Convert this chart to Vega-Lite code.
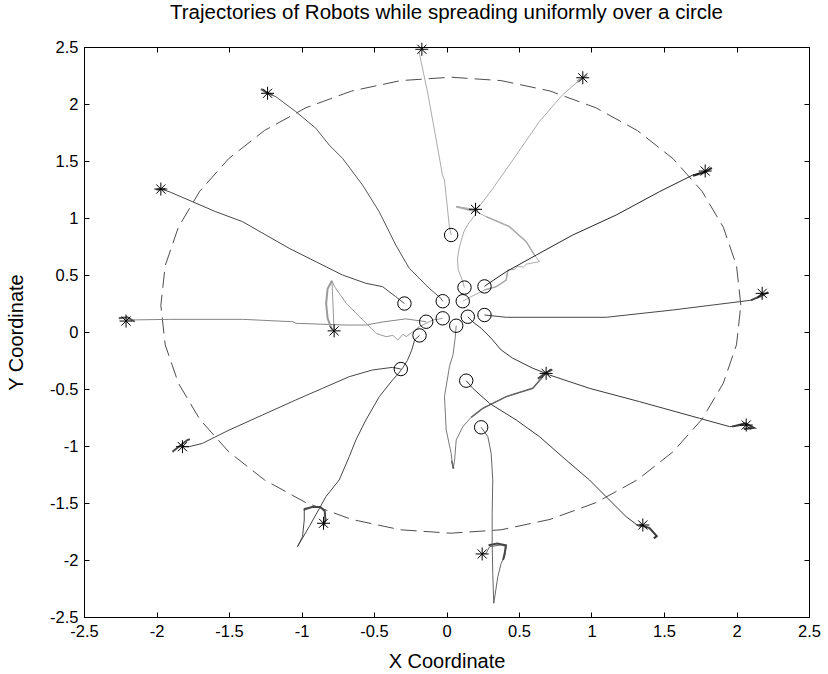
{
"$schema": "https://vega.github.io/schema/vega-lite/v6.json",
"width": 725, "height": 570,
"autosize": {"type": "none"},
"padding": {"left": 84, "top": 47, "right": 19, "bottom": 57},
"background": "white",
"title": {"text": "Trajectories of Robots while spreading uniformly over a circle", "font": "Liberation Sans", "fontSize": 20.5, "fontWeight": "normal", "color": "black", "offset": 16, "anchor": "middle"},
"config": {
  "view": {"stroke": "black", "strokeWidth": 1},
  "axis": {"grid": false, "domainColor": "black", "tickColor": "black", "labelColor": "black", "titleColor": "black", "labelFont": "Liberation Sans", "titleFont": "Liberation Sans", "labelFontSize": 16.5, "titleFontSize": 20, "titleFontWeight": "normal", "tickSize": -5, "labelPadding": 11, "labelFlush": false, "labelOverlap": false}
},
"datasets": {
"circ": [
{"a":0,"x":2.03,"y":0.235},{"a":1,"x":2.0,"y":0.582},{"a":2,"x":1.909,"y":0.919},{"a":3,"x":1.762,"y":1.235},{"a":4,"x":1.562,"y":1.521},{"a":5,"x":1.316,"y":1.767},{"a":6,"x":1.03,"y":1.967},{"a":7,"x":0.714,"y":2.114},{"a":8,"x":0.377,"y":2.205},{"a":9,"x":0.03,"y":2.235},{"a":10,"x":-0.317,"y":2.205},{"a":11,"x":-0.654,"y":2.114},{"a":12,"x":-0.97,"y":1.967},{"a":13,"x":-1.256,"y":1.767},{"a":14,"x":-1.502,"y":1.521},{"a":15,"x":-1.702,"y":1.235},{"a":16,"x":-1.849,"y":0.919},{"a":17,"x":-1.94,"y":0.582},{"a":18,"x":-1.97,"y":0.235},{"a":19,"x":-1.94,"y":-0.112},{"a":20,"x":-1.849,"y":-0.449},{"a":21,"x":-1.702,"y":-0.765},{"a":22,"x":-1.502,"y":-1.051},{"a":23,"x":-1.256,"y":-1.297},{"a":24,"x":-0.97,"y":-1.497},{"a":25,"x":-0.654,"y":-1.644},{"a":26,"x":-0.317,"y":-1.735},{"a":27,"x":0.03,"y":-1.765},{"a":28,"x":0.377,"y":-1.735},{"a":29,"x":0.714,"y":-1.644},{"a":30,"x":1.03,"y":-1.497},{"a":31,"x":1.316,"y":-1.297},{"a":32,"x":1.562,"y":-1.051},{"a":33,"x":1.762,"y":-0.765},{"a":34,"x":1.909,"y":-0.449},{"a":35,"x":2.0,"y":-0.112},{"a":36,"x":2.03,"y":0.235}
],
"traj": [
{"r":"1","i":1,"x":0.032,"y":0.851,"s":"ka","w":"thin"},{"r":"1","i":2,"x":0.021,"y":0.91,"s":"ka","w":"thin"},{"r":"1","i":3,"x":-0.014,"y":1.333,"s":"ka","w":"thin"},{"r":"1","i":4,"x":-0.028,"y":1.377,"s":"ka","w":"thin"},{"r":"1","i":5,"x":-0.08,"y":1.75,"s":"ka","w":"thin"},{"r":"1","i":6,"x":-0.13,"y":2.1,"s":"ka","w":"thin"},{"r":"1","i":7,"x":-0.19,"y":2.46,"s":"ka","w":"thin"},{"r":"1","i":8,"x":-0.17,"y":2.48,"s":"ka","w":"thin"},

{"r":"2","i":1,"x":0.124,"y":0.39,"s":"ka","w":"thin"},{"r":"2","i":2,"x":0.11,"y":0.45,"s":"ka","w":"thin"},{"r":"2","i":3,"x":0.08,"y":0.55,"s":"ka","w":"thin"},{"r":"2","i":4,"x":0.076,"y":0.65,"s":"ka","w":"thin"},{"r":"2","i":5,"x":0.09,"y":0.75,"s":"ka","w":"thin"},{"r":"2","i":6,"x":0.12,"y":0.88,"s":"ka","w":"thin"},{"r":"2","i":7,"x":0.145,"y":0.94,"s":"ka","w":"thin"},{"r":"2","i":8,"x":0.205,"y":1.04,"s":"ka","w":"thin"},{"r":"2","i":9,"x":0.22,"y":1.09,"s":"ka","w":"thin"},{"r":"2","i":10,"x":0.32,"y":1.26,"s":"ka","w":"thin"},{"r":"2","i":11,"x":0.48,"y":1.55,"s":"ka","w":"thin"},{"r":"2","i":12,"x":0.64,"y":1.845,"s":"ka","w":"thin"},{"r":"2","i":13,"x":0.8,"y":2.08,"s":"ka","w":"thin"},{"r":"2","i":14,"x":0.917,"y":2.21,"s":"ka","w":"thin"},{"r":"2","i":15,"x":0.94,"y":2.23,"s":"ka","w":"thin"},
{"r":"2b","i":1,"x":0.9,"y":2.2,"s":"ka","w":"thick"},{"r":"2b","i":2,"x":0.97,"y":2.25,"s":"ka","w":"thick"},

{"r":"3","i":1,"x":0.112,"y":0.27,"s":"ka","w":"thin"},{"r":"3","i":2,"x":0.17,"y":0.31,"s":"ka","w":"thin"},{"r":"3","i":3,"x":0.262,"y":0.368,"s":"ka","w":"thin"},{"r":"3","i":4,"x":0.343,"y":0.398,"s":"ka","w":"thin"},{"r":"3","i":5,"x":0.412,"y":0.456,"s":"ka","w":"thin"},{"r":"3","i":6,"x":0.423,"y":0.544,"s":"ka","w":"thin"},{"r":"3","i":7,"x":0.47,"y":0.55,"s":"ka","w":"thin"},{"r":"3","i":8,"x":0.49,"y":0.575,"s":"ka","w":"thin"},{"r":"3","i":9,"x":0.53,"y":0.57,"s":"ka","w":"thin"},{"r":"3","i":10,"x":0.55,"y":0.595,"s":"ka","w":"thin"},{"r":"3","i":11,"x":0.641,"y":0.617,"s":"ka","w":"thin"},{"r":"3","i":12,"x":0.607,"y":0.675,"s":"ka","w":"thin"},{"r":"3","i":13,"x":0.55,"y":0.792,"s":"ka","w":"thin"},{"r":"3","i":14,"x":0.434,"y":0.924,"s":"ka","w":"thin"},{"r":"3","i":15,"x":0.274,"y":1.012,"s":"ka","w":"thin"},{"r":"3","i":16,"x":0.205,"y":1.056,"s":"ka","w":"thin"},{"r":"3","i":17,"x":0.067,"y":1.1,"s":"ka","w":"thin"},{"r":"3","i":18,"x":0.2,"y":1.076,"s":"ka","w":"thin"},
{"r":"3b","i":1,"x":0.262,"y":0.368,"s":"ka","w":"mid"},{"r":"3b","i":2,"x":0.343,"y":0.398,"s":"ka","w":"mid"},{"r":"3b","i":3,"x":0.412,"y":0.456,"s":"ka","w":"mid"},{"r":"3b","i":4,"x":0.423,"y":0.544,"s":"ka","w":"mid"},
{"r":"3c","i":1,"x":0.607,"y":0.675,"s":"ka","w":"mid"},{"r":"3c","i":2,"x":0.55,"y":0.792,"s":"ka","w":"mid"},{"r":"3c","i":3,"x":0.434,"y":0.924,"s":"ka","w":"mid"},{"r":"3c","i":4,"x":0.274,"y":1.012,"s":"ka","w":"mid"},{"r":"3c","i":5,"x":0.205,"y":1.056,"s":"ka","w":"thick"},{"r":"3c","i":6,"x":0.067,"y":1.1,"s":"ka","w":"thick"},

{"r":"4","i":1,"x":0.262,"y":0.4,"s":"k2","w":"thin"},{"r":"4","i":2,"x":0.274,"y":0.412,"s":"k2","w":"thin"},{"r":"4","i":3,"x":0.412,"y":0.529,"s":"k2","w":"thin"},{"r":"4","i":4,"x":0.619,"y":0.675,"s":"k2","w":"thin"},{"r":"4","i":5,"x":0.871,"y":0.851,"s":"k2","w":"thin"},{"r":"4","i":6,"x":1.17,"y":1.026,"s":"k2","w":"thin"},{"r":"4","i":7,"x":1.469,"y":1.231,"s":"k2","w":"thin"},{"r":"4","i":8,"x":1.699,"y":1.377,"s":"k2","w":"thin"},{"r":"4","i":9,"x":1.784,"y":1.412,"s":"k2","w":"thin"},
{"r":"4b","i":1,"x":1.7,"y":1.37,"s":"k2","w":"thick"},{"r":"4b","i":2,"x":1.78,"y":1.4,"s":"k2","w":"thick"},{"r":"4b","i":3,"x":1.83,"y":1.44,"s":"k2","w":"thick"},

{"r":"5","i":1,"x":0.262,"y":0.149,"s":"k4","w":"thin"},{"r":"5","i":2,"x":0.308,"y":0.143,"s":"k4","w":"thin"},{"r":"5","i":3,"x":0.412,"y":0.129,"s":"k4","w":"thin"},{"r":"5","i":4,"x":0.7,"y":0.129,"s":"k4","w":"thin"},{"r":"5","i":5,"x":1.101,"y":0.129,"s":"k4","w":"thin"},{"r":"5","i":6,"x":1.561,"y":0.193,"s":"k4","w":"thin"},{"r":"5","i":7,"x":2.021,"y":0.266,"s":"k4","w":"thin"},{"r":"5","i":8,"x":2.113,"y":0.281,"s":"k4","w":"thin"},{"r":"5","i":9,"x":2.177,"y":0.339,"s":"k4","w":"thin"},
{"r":"5b","i":1,"x":2.1,"y":0.28,"s":"k4","w":"thick"},{"r":"5b","i":2,"x":2.16,"y":0.31,"s":"k4","w":"thick"},{"r":"5b","i":3,"x":2.22,"y":0.35,"s":"k4","w":"thick"},

{"r":"6","i":1,"x":0.147,"y":0.134,"s":"k3","w":"thin"},{"r":"6","i":2,"x":0.18,"y":0.09,"s":"k3","w":"thin"},{"r":"6","i":3,"x":0.24,"y":0.032,"s":"k3","w":"thin"},{"r":"6","i":4,"x":0.308,"y":-0.055,"s":"k3","w":"thin"},{"r":"6","i":5,"x":0.377,"y":-0.158,"s":"k3","w":"thin"},{"r":"6","i":6,"x":0.457,"y":-0.23,"s":"k3","w":"thin"},{"r":"6","i":7,"x":0.595,"y":-0.318,"s":"k3","w":"thin"},{"r":"6","i":8,"x":0.687,"y":-0.363,"s":"k3","w":"thin"},{"r":"6","i":9,"x":0.71,"y":-0.377,"s":"k3","w":"thin"},{"r":"6","i":10,"x":0.986,"y":-0.494,"s":"k3","w":"thin"},{"r":"6","i":11,"x":1.331,"y":-0.611,"s":"k3","w":"thin"},{"r":"6","i":12,"x":1.745,"y":-0.757,"s":"k3","w":"thin"},{"r":"6","i":13,"x":1.952,"y":-0.83,"s":"k3","w":"thin"},{"r":"6","i":14,"x":2.067,"y":-0.816,"s":"k3","w":"thin"},
{"r":"6b","i":1,"x":1.97,"y":-0.83,"s":"k3","w":"thick"},{"r":"6b","i":2,"x":2.06,"y":-0.8,"s":"k3","w":"thick"},{"r":"6b","i":3,"x":2.12,"y":-0.84,"s":"k3","w":"thick"},{"r":"6b","i":4,"x":2.05,"y":-0.85,"s":"k3","w":"thick"},

{"r":"7","i":1,"x":0.067,"y":0.055,"s":"k7","w":"thin"},{"r":"7","i":2,"x":0.06,"y":-0.05,"s":"k7","w":"thin"},{"r":"7","i":3,"x":0.045,"y":-0.2,"s":"k7","w":"thin"},{"r":"7","i":4,"x":0.021,"y":-0.3,"s":"k7","w":"thin"},{"r":"7","i":5,"x":-0.014,"y":-0.567,"s":"k7","w":"thin"},{"r":"7","i":6,"x":-0.002,"y":-0.86,"s":"k7","w":"thin"},{"r":"7","i":7,"x":0.032,"y":-1.064,"s":"k7","w":"thin"},{"r":"7","i":8,"x":0.044,"y":-1.196,"s":"k7","w":"thin"},{"r":"7","i":9,"x":0.055,"y":-1.138,"s":"k7","w":"thin"},{"r":"7","i":10,"x":0.067,"y":-0.947,"s":"k7","w":"thin"},{"r":"7","i":11,"x":0.113,"y":-0.83,"s":"k7","w":"thin"},{"r":"7","i":12,"x":0.17,"y":-0.749,"s":"k7","w":"thin"},{"r":"7","i":13,"x":0.25,"y":-0.67,"s":"k7","w":"thin"},{"r":"7","i":14,"x":0.412,"y":-0.567,"s":"k7","w":"thin"},{"r":"7","i":15,"x":0.595,"y":-0.494,"s":"k7","w":"thin"},{"r":"7","i":16,"x":0.664,"y":-0.392,"s":"k7","w":"thin"},{"r":"7","i":17,"x":0.687,"y":-0.363,"s":"k7","w":"thin"},
{"r":"7b","i":1,"x":0.17,"y":-0.749,"s":"k6","w":"mid"},{"r":"7b","i":2,"x":0.25,"y":-0.67,"s":"k6","w":"mid"},{"r":"7b","i":3,"x":0.412,"y":-0.567,"s":"k6","w":"mid"},{"r":"7b","i":4,"x":0.595,"y":-0.494,"s":"k6","w":"mid"},{"r":"7b","i":5,"x":0.664,"y":-0.392,"s":"k6","w":"mid"},
{"r":"7c","i":1,"x":0.63,"y":-0.41,"s":"k4","w":"thick"},{"r":"7c","i":2,"x":0.68,"y":-0.36,"s":"k4","w":"thick"},{"r":"7c","i":3,"x":0.73,"y":-0.33,"s":"k4","w":"thick"},
{"r":"7d","i":1,"x":0.035,"y":-1.13,"s":"k6","w":"mid"},{"r":"7d","i":2,"x":0.05,"y":-1.2,"s":"k6","w":"mid"},

{"r":"8","i":1,"x":0.136,"y":-0.427,"s":"k3","w":"thin"},{"r":"8","i":2,"x":0.181,"y":-0.494,"s":"k3","w":"thin"},{"r":"8","i":3,"x":0.297,"y":-0.626,"s":"k3","w":"thin"},{"r":"8","i":4,"x":0.481,"y":-0.772,"s":"k3","w":"thin"},{"r":"8","i":5,"x":0.641,"y":-0.918,"s":"k3","w":"thin"},{"r":"8","i":6,"x":0.825,"y":-1.123,"s":"k3","w":"thin"},{"r":"8","i":7,"x":0.986,"y":-1.298,"s":"k3","w":"thin"},{"r":"8","i":8,"x":1.101,"y":-1.445,"s":"k3","w":"thin"},{"r":"8","i":9,"x":1.239,"y":-1.62,"s":"k3","w":"thin"},{"r":"8","i":10,"x":1.331,"y":-1.708,"s":"k3","w":"thin"},{"r":"8","i":11,"x":1.354,"y":-1.693,"s":"k3","w":"thin"},
{"r":"8b","i":1,"x":1.33,"y":-1.69,"s":"k3","w":"thick"},{"r":"8b","i":2,"x":1.4,"y":-1.72,"s":"k3","w":"thick"},{"r":"8b","i":3,"x":1.45,"y":-1.79,"s":"k3","w":"thick"},{"r":"8b","i":4,"x":1.43,"y":-1.81,"s":"k3","w":"thick"},

{"r":"9","i":1,"x":0.239,"y":-0.836,"s":"k6","w":"thin"},{"r":"9","i":2,"x":0.285,"y":-0.918,"s":"k6","w":"thin"},{"r":"9","i":3,"x":0.308,"y":-1.064,"s":"k6","w":"thin"},{"r":"9","i":4,"x":0.319,"y":-1.298,"s":"k6","w":"thin"},{"r":"9","i":5,"x":0.315,"y":-1.591,"s":"k6","w":"thin"},{"r":"9","i":6,"x":0.315,"y":-1.854,"s":"k6","w":"thin"},{"r":"9","i":7,"x":0.319,"y":-2.117,"s":"k6","w":"thin"},{"r":"9","i":8,"x":0.326,"y":-2.38,"s":"k6","w":"thin"},{"r":"9","i":9,"x":0.354,"y":-2.146,"s":"k6","w":"thin"},{"r":"9","i":10,"x":0.377,"y":-2.029,"s":"k6","w":"thin"},{"r":"9","i":11,"x":0.4,"y":-1.971,"s":"k6","w":"thin"},{"r":"9","i":12,"x":0.412,"y":-1.883,"s":"k6","w":"thin"},{"r":"9","i":13,"x":0.377,"y":-1.868,"s":"k6","w":"thin"},{"r":"9","i":14,"x":0.297,"y":-1.883,"s":"k6","w":"thin"},{"r":"9","i":15,"x":0.274,"y":-1.941,"s":"k6","w":"thin"},{"r":"9","i":16,"x":0.246,"y":-1.947,"s":"k6","w":"thin"},
{"r":"9b","i":1,"x":0.29,"y":-1.87,"s":"k4","w":"thick"},{"r":"9b","i":2,"x":0.35,"y":-1.855,"s":"k4","w":"thick"},{"r":"9b","i":3,"x":0.41,"y":-1.87,"s":"k4","w":"thick"},{"r":"9b","i":4,"x":0.4,"y":-1.95,"s":"k4","w":"thick"},{"r":"9b","i":5,"x":0.39,"y":-2.0,"s":"k4","w":"thick"},

{"r":"10","i":1,"x":-0.186,"y":-0.03,"s":"k4","w":"thin"},{"r":"10","i":2,"x":-0.22,"y":-0.07,"s":"k4","w":"thin"},{"r":"10","i":3,"x":-0.24,"y":-0.16,"s":"k4","w":"thin"},{"r":"10","i":4,"x":-0.27,"y":-0.25,"s":"k4","w":"thin"},{"r":"10","i":5,"x":-0.3,"y":-0.31,"s":"k4","w":"thin"},{"r":"10","i":6,"x":-0.335,"y":-0.37,"s":"k4","w":"thin"},{"r":"10","i":7,"x":-0.372,"y":-0.421,"s":"k4","w":"thin"},{"r":"10","i":8,"x":-0.464,"y":-0.568,"s":"k4","w":"thin"},{"r":"10","i":9,"x":-0.556,"y":-0.772,"s":"k4","w":"thin"},{"r":"10","i":10,"x":-0.625,"y":-0.947,"s":"k4","w":"thin"},{"r":"10","i":11,"x":-0.671,"y":-1.094,"s":"k4","w":"thin"},{"r":"10","i":12,"x":-0.74,"y":-1.298,"s":"k4","w":"thin"},{"r":"10","i":13,"x":-0.832,"y":-1.445,"s":"k4","w":"thin"},{"r":"10","i":14,"x":-0.947,"y":-1.708,"s":"k4","w":"thin"},{"r":"10","i":15,"x":-1.028,"y":-1.883,"s":"k4","w":"thin"},{"r":"10","i":16,"x":-0.993,"y":-1.796,"s":"k4","w":"thin"},{"r":"10","i":17,"x":-0.981,"y":-1.649,"s":"k4","w":"thin"},{"r":"10","i":18,"x":-0.981,"y":-1.547,"s":"k4","w":"thin"},{"r":"10","i":19,"x":-0.878,"y":-1.532,"s":"k4","w":"thin"},{"r":"10","i":20,"x":-0.843,"y":-1.561,"s":"k4","w":"thin"},{"r":"10","i":21,"x":-0.832,"y":-1.649,"s":"k4","w":"thin"},{"r":"10","i":22,"x":-0.848,"y":-1.678,"s":"k4","w":"thin"},
{"r":"10b","i":1,"x":-0.985,"y":-1.56,"s":"k4","w":"thick"},{"r":"10b","i":2,"x":-0.93,"y":-1.535,"s":"k4","w":"thick"},{"r":"10b","i":3,"x":-0.87,"y":-1.535,"s":"k4","w":"thick"},{"r":"10b","i":4,"x":-0.84,"y":-1.57,"s":"k4","w":"thick"},{"r":"10b","i":5,"x":-0.835,"y":-1.65,"s":"k4","w":"thick"},{"r":"10b","i":6,"x":-0.85,"y":-1.7,"s":"k4","w":"thick"},

{"r":"11","i":1,"x":-0.315,"y":-0.325,"s":"k4","w":"thin"},{"r":"11","i":2,"x":-0.372,"y":-0.31,"s":"k4","w":"thin"},{"r":"11","i":3,"x":-0.51,"y":-0.333,"s":"k4","w":"thin"},{"r":"11","i":4,"x":-0.671,"y":-0.392,"s":"k4","w":"thin"},{"r":"11","i":5,"x":-0.855,"y":-0.494,"s":"k4","w":"thin"},{"r":"11","i":6,"x":-1.039,"y":-0.596,"s":"k4","w":"thin"},{"r":"11","i":7,"x":-1.269,"y":-0.728,"s":"k4","w":"thin"},{"r":"11","i":8,"x":-1.499,"y":-0.86,"s":"k4","w":"thin"},{"r":"11","i":9,"x":-1.591,"y":-0.918,"s":"k4","w":"thin"},{"r":"11","i":10,"x":-1.683,"y":-0.977,"s":"k4","w":"thin"},{"r":"11","i":11,"x":-1.775,"y":-1.006,"s":"k4","w":"thin"},{"r":"11","i":12,"x":-1.821,"y":-1.006,"s":"k4","w":"thin"},
{"r":"11b","i":1,"x":-1.89,"y":-1.05,"s":"k4","w":"thick"},{"r":"11b","i":2,"x":-1.84,"y":-1.0,"s":"k4","w":"thick"},{"r":"11b","i":3,"x":-1.79,"y":-0.95,"s":"k4","w":"thick"},{"r":"11b","i":4,"x":-1.77,"y":-0.94,"s":"k4","w":"thick"},

{"r":"12","i":1,"x":-0.29,"y":0.25,"s":"k4","w":"thin"},{"r":"12","i":2,"x":-0.35,"y":0.31,"s":"k4","w":"thin"},{"r":"12","i":3,"x":-0.441,"y":0.398,"s":"k4","w":"thin"},{"r":"12","i":4,"x":-0.556,"y":0.427,"s":"k4","w":"thin"},{"r":"12","i":5,"x":-0.717,"y":0.5,"s":"k4","w":"thin"},{"r":"12","i":6,"x":-0.901,"y":0.617,"s":"k4","w":"thin"},{"r":"12","i":7,"x":-1.085,"y":0.734,"s":"k4","w":"thin"},{"r":"12","i":8,"x":-1.246,"y":0.851,"s":"k4","w":"thin"},{"r":"12","i":9,"x":-1.407,"y":0.968,"s":"k4","w":"thin"},{"r":"12","i":10,"x":-1.591,"y":1.055,"s":"k4","w":"thin"},{"r":"12","i":11,"x":-1.752,"y":1.143,"s":"k4","w":"thin"},{"r":"12","i":12,"x":-1.913,"y":1.231,"s":"k4","w":"thin"},{"r":"12","i":13,"x":-1.97,"y":1.254,"s":"k4","w":"thin"},
{"r":"12b","i":1,"x":-2.0,"y":1.25,"s":"k4","w":"thick"},{"r":"12b","i":2,"x":-1.94,"y":1.255,"s":"k4","w":"thick"},

{"r":"13","i":1,"x":-0.026,"y":0.27,"s":"k5","w":"thin"},{"r":"13","i":2,"x":-0.039,"y":0.296,"s":"k5","w":"thin"},{"r":"13","i":3,"x":-0.119,"y":0.383,"s":"k5","w":"thin"},{"r":"13","i":4,"x":-0.257,"y":0.559,"s":"k5","w":"thin"},{"r":"13","i":5,"x":-0.35,"y":0.763,"s":"k5","w":"thin"},{"r":"13","i":6,"x":-0.464,"y":1.055,"s":"k5","w":"thin"},{"r":"13","i":7,"x":-0.579,"y":1.289,"s":"k5","w":"thin"},{"r":"13","i":8,"x":-0.717,"y":1.523,"s":"k5","w":"thin"},{"r":"13","i":9,"x":-0.809,"y":1.64,"s":"k5","w":"thin"},{"r":"13","i":10,"x":-0.901,"y":1.787,"s":"k5","w":"thin"},{"r":"13","i":11,"x":-1.039,"y":1.933,"s":"k5","w":"thin"},{"r":"13","i":12,"x":-1.177,"y":2.064,"s":"k5","w":"thin"},{"r":"13","i":13,"x":-1.234,"y":2.094,"s":"k5","w":"thin"},
{"r":"13b","i":1,"x":-1.28,"y":2.13,"s":"k5","w":"thick"},{"r":"13b","i":2,"x":-1.24,"y":2.1,"s":"k5","w":"thick"},{"r":"13b","i":3,"x":-1.2,"y":2.08,"s":"k5","w":"thick"},

{"r":"14","i":1,"x":-0.14,"y":0.09,"s":"k8","w":"thin"},{"r":"14","i":2,"x":-0.28,"y":0.115,"s":"k8","w":"thin"},{"r":"14","i":3,"x":-0.44,"y":0.088,"s":"k8","w":"thin"},{"r":"14","i":4,"x":-0.556,"y":0.061,"s":"k8","w":"thin"},{"r":"14","i":5,"x":-0.69,"y":0.061,"s":"k8","w":"thin"},{"r":"14","i":6,"x":-1.037,"y":0.076,"s":"k8","w":"thin"},{"r":"14","i":7,"x":-1.06,"y":0.09,"s":"k8","w":"thin"},{"r":"14","i":8,"x":-1.405,"y":0.111,"s":"k8","w":"thin"},{"r":"14","i":9,"x":-1.91,"y":0.111,"s":"k8","w":"thin"},{"r":"14","i":10,"x":-2.209,"y":0.105,"s":"k8","w":"thin"},
{"r":"14b","i":1,"x":-2.26,"y":0.12,"s":"k5","w":"thick"},{"r":"14b","i":2,"x":-2.2,"y":0.13,"s":"k5","w":"thick"},{"r":"14b","i":3,"x":-2.15,"y":0.09,"s":"k5","w":"thick"},

{"r":"15","i":1,"x":-0.026,"y":0.12,"s":"k9","w":"thin"},{"r":"15","i":2,"x":-0.094,"y":0.105,"s":"k9","w":"thin"},{"r":"15","i":3,"x":-0.186,"y":0.047,"s":"k9","w":"thin"},{"r":"15","i":4,"x":-0.278,"y":-0.041,"s":"k9","w":"thin"},{"r":"15","i":5,"x":-0.3,"y":-0.02,"s":"k9","w":"thin"},{"r":"15","i":6,"x":-0.336,"y":-0.07,"s":"k9","w":"thin"},{"r":"15","i":7,"x":-0.37,"y":-0.03,"s":"k9","w":"thin"},{"r":"15","i":8,"x":-0.416,"y":-0.041,"s":"k9","w":"thin"},{"r":"15","i":9,"x":-0.485,"y":-0.012,"s":"k9","w":"thin"},{"r":"15","i":10,"x":-0.577,"y":0.105,"s":"k9","w":"thin"},{"r":"15","i":11,"x":-0.692,"y":0.252,"s":"k9","w":"thin"},{"r":"15","i":12,"x":-0.772,"y":0.398,"s":"k9","w":"thin"},{"r":"15","i":13,"x":-0.79,"y":0.45,"s":"k9","w":"thin"},{"r":"15","i":14,"x":-0.775,"y":0.01,"s":"k9","w":"thin"},
{"r":"15b","i":1,"x":-0.79,"y":0.45,"s":"k9","w":"thick"},{"r":"15b","i":2,"x":-0.82,"y":0.38,"s":"k9","w":"thick"},{"r":"15b","i":3,"x":-0.83,"y":0.25,"s":"k9","w":"thick"},{"r":"15b","i":4,"x":-0.82,"y":0.12,"s":"k9","w":"thick"},{"r":"15b","i":5,"x":-0.79,"y":0.02,"s":"k9","w":"thick"}
],
"starts": [
{"x":0.032,"y":0.851},{"x":0.124,"y":0.39},{"x":0.112,"y":0.27},{"x":0.262,"y":0.4},{"x":0.262,"y":0.149},{"x":0.147,"y":0.134},{"x":0.067,"y":0.055},{"x":0.136,"y":-0.427},{"x":0.239,"y":-0.836},{"x":-0.186,"y":-0.03},{"x":-0.315,"y":-0.325},{"x":-0.29,"y":0.25},{"x":-0.026,"y":0.27},{"x":-0.14,"y":0.09},{"x":-0.026,"y":0.12}
],
"ends": [
{"x":-0.17,"y":2.48},{"x":0.94,"y":2.23},{"x":0.2,"y":1.076},{"x":1.784,"y":1.412},{"x":2.177,"y":0.339},{"x":2.067,"y":-0.816},{"x":0.687,"y":-0.363},{"x":1.354,"y":-1.693},{"x":0.246,"y":-1.947},{"x":-0.848,"y":-1.678},{"x":-1.821,"y":-1.006},{"x":-1.97,"y":1.254},{"x":-1.234,"y":2.094},{"x":-2.21,"y":0.096},{"x":-0.775,"y":0.01}
]
},
"layer": [
{
  "data": {"name": "circ"},
  "mark": {"type": "line", "color": "#4d4d4d", "strokeWidth": 1, "strokeDash": [16, 7]},
  "encoding": {
    "x": {"field": "x", "type": "quantitative", "scale": {"domain": [-2.5, 2.5], "nice": false, "zero": false}, "axis": {"title": "X Coordinate", "titlePadding": 12, "values": [-2.5,-2,-1.5,-1,-0.5,0,0.5,1,1.5,2,2.5], "labelExpr": "replace(format(datum.value, '~g'), '\u2212', '-')"}},
    "y": {"field": "y", "type": "quantitative", "scale": {"domain": [-2.5, 2.5], "nice": false, "zero": false}, "axis": {"title": "Y Coordinate", "titlePadding": 23, "values": [-2.5,-2,-1.5,-1,-0.5,0,0.5,1,1.5,2,2.5], "labelExpr": "replace(format(datum.value, '~g'), '\u2212', '-')"}},
    "order": {"field": "a", "type": "quantitative"}
  }
},
{
  "data": {"name": "traj"},
  "mark": {"type": "line"},
  "encoding": {
    "x": {"field": "x", "type": "quantitative", "scale": {"domain": [-2.5, 2.5], "nice": false, "zero": false}, "axis": {"orient": "top", "labels": false, "title": null, "domain": false, "values": [-2.5,-2,-1.5,-1,-0.5,0,0.5,1,1.5,2,2.5]}},
    "y": {"field": "y", "type": "quantitative", "scale": {"domain": [-2.5, 2.5], "nice": false, "zero": false}, "axis": {"orient": "right", "labels": false, "title": null, "domain": false, "values": [-2.5,-2,-1.5,-1,-0.5,0,0.5,1,1.5,2,2.5]}},
    "order": {"field": "i", "type": "quantitative"},
    "detail": {"field": "r", "type": "nominal"},
    "color": {"field": "s", "type": "nominal", "legend": null, "scale": {"domain": ["k2","k3","k4","k5","k6","k7","k8","k9","ka"], "range": ["#262626","#3a3a3a","#474747","#555555","#666666","#7a7a7a","#858585","#9a9a9a","#ababab"]}},
    "strokeWidth": {"field": "w", "type": "nominal", "legend": null, "scale": {"domain": ["thin","mid","thick"], "range": [1, 2, 2.8]}}
  }
},
{
  "data": {"name": "starts"},
  "mark": {"type": "point", "shape": "circle", "filled": false, "size": 180, "stroke": "black", "strokeWidth": 1, "opacity": 1},
  "encoding": {
    "x": {"field": "x", "type": "quantitative", "scale": {"domain": [-2.5, 2.5], "nice": false, "zero": false}, "axis": null},
    "y": {"field": "y", "type": "quantitative", "scale": {"domain": [-2.5, 2.5], "nice": false, "zero": false}, "axis": null}
  }
},
{
  "data": {"name": "ends"},
  "mark": {"type": "point", "shape": "M-1,0L1,0M0,-1L0,1M-0.7,-0.7L0.7,0.7M-0.7,0.7L0.7,-0.7", "filled": false, "size": 170, "stroke": "black", "strokeWidth": 1, "opacity": 1},
  "encoding": {
    "x": {"field": "x", "type": "quantitative", "scale": {"domain": [-2.5, 2.5], "nice": false, "zero": false}, "axis": null},
    "y": {"field": "y", "type": "quantitative", "scale": {"domain": [-2.5, 2.5], "nice": false, "zero": false}, "axis": null}
  }
}
],
"resolve": {"axis": {"x": "independent", "y": "independent"}}
}
